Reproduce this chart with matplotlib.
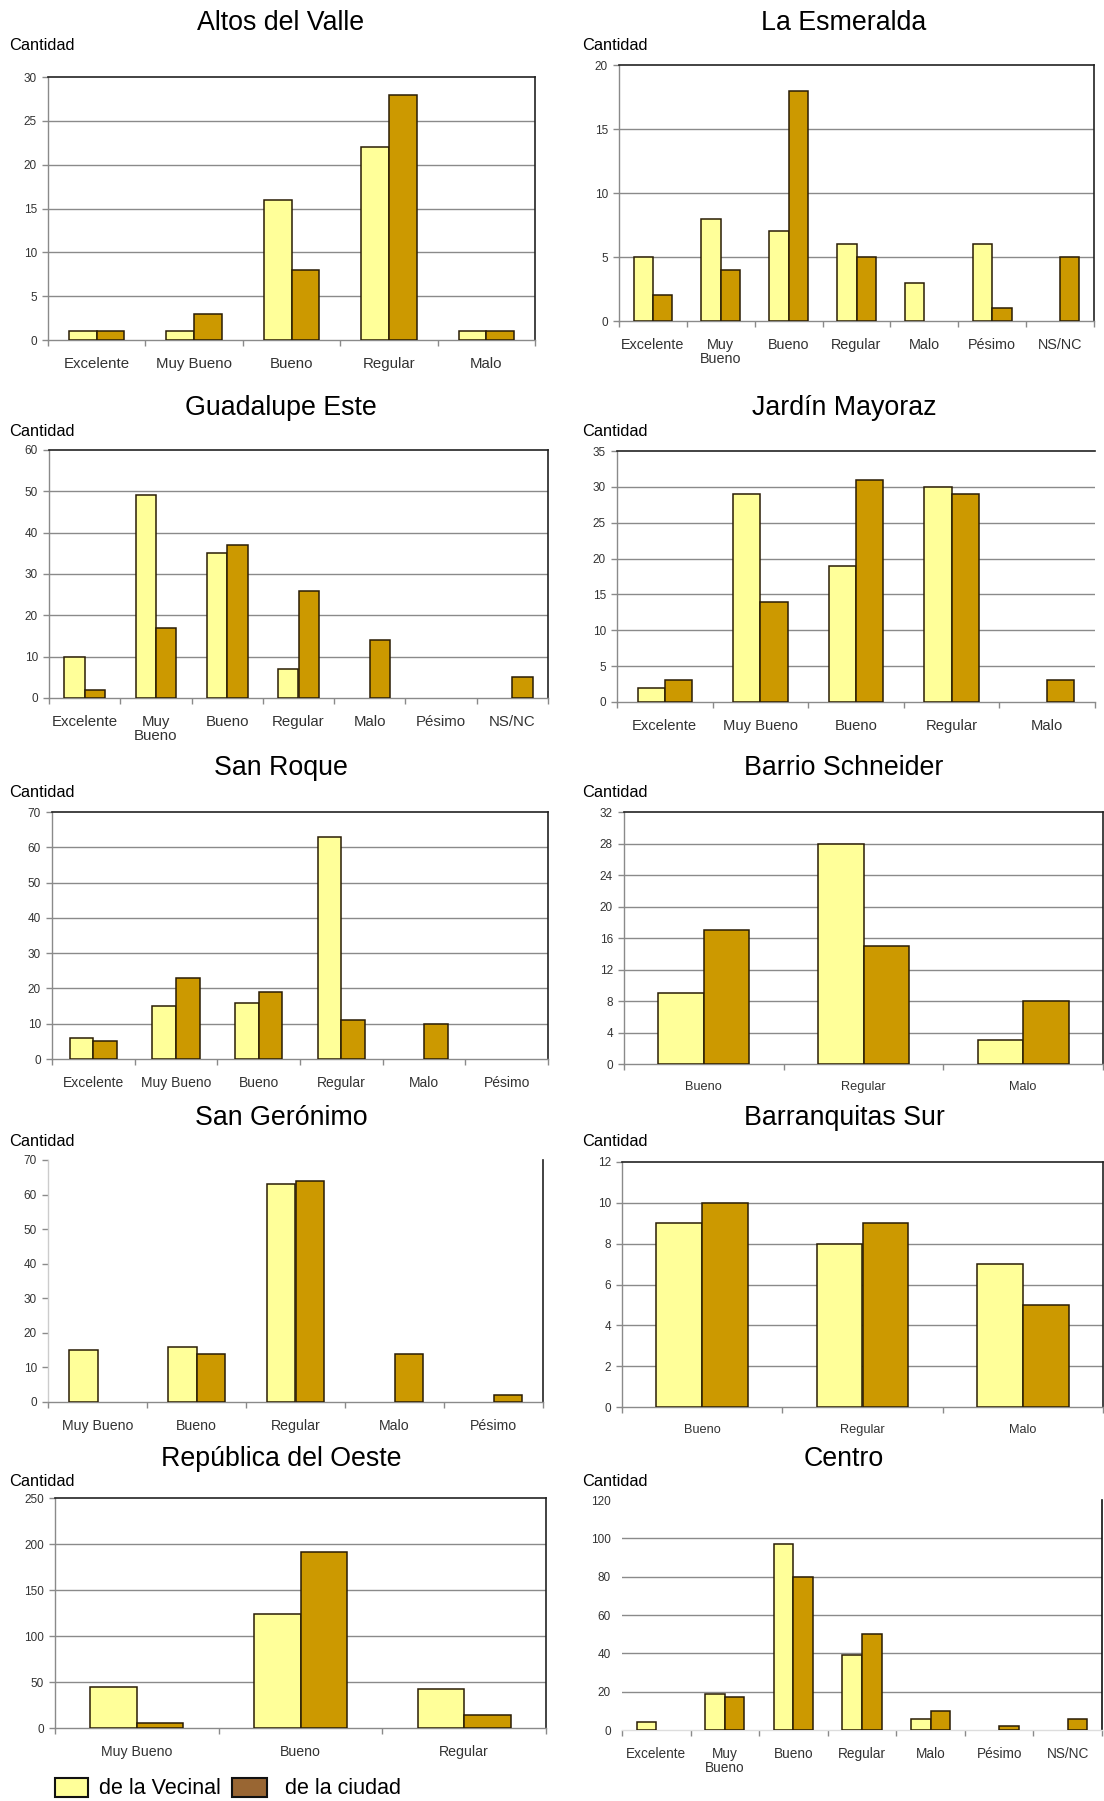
import numpy as np
import matplotlib
matplotlib.use("Agg")
import matplotlib.pyplot as plt
from matplotlib.patches import Rectangle

plt.rcParams["font.family"] = ["Liberation Sans", "DejaVu Sans"]

# ---- data: evaluations per neighbourhood (de la Vecinal / de la ciudad) ----
altos_cats = ["Excelente", "Muy Bueno", "Bueno", "Regular", "Malo"]
altos_vecinal = [1, 1, 16, 22, 1]
altos_ciudad = [1, 3, 8, 28, 1]

esmeralda_cats = ["Excelente", "Muy\nBueno", "Bueno", "Regular", "Malo", "Pésimo", "NS/NC"]
esmeralda_vecinal = [5, 8, 7, 6, 3, 6, 0]
esmeralda_ciudad = [2, 4, 18, 5, 0, 1, 5]

guadalupe_cats = ["Excelente", "Muy\nBueno", "Bueno", "Regular", "Malo", "Pésimo", "NS/NC"]
guadalupe_vecinal = [10, 49, 35, 7, 0, 0, 0]
guadalupe_ciudad = [2, 17, 37, 26, 14, 0, 5]

jardin_cats = ["Excelente", "Muy Bueno", "Bueno", "Regular", "Malo"]
jardin_vecinal = [2, 29, 19, 30, 0]
jardin_ciudad = [3, 14, 31, 29, 3]

sanroque_cats = ["Excelente", "Muy Bueno", "Bueno", "Regular", "Malo", "Pésimo"]
sanroque_vecinal = [6, 15, 16, 63, 0, 0]
sanroque_ciudad = [5, 23, 19, 11, 10, 0]

schneider_cats = ["Bueno", "Regular", "Malo"]
schneider_vecinal = [9, 28, 3]
schneider_ciudad = [17, 15, 8]

geronimo_cats = ["Muy Bueno", "Bueno", "Regular", "Malo", "Pésimo"]
geronimo_vecinal = [15, 16, 63, 0, 0]
geronimo_ciudad = [0, 14, 64, 14, 2]

barranquitas_cats = ["Bueno", "Regular", "Malo"]
barranquitas_vecinal = [9, 8, 7]
barranquitas_ciudad = [10, 9, 5]

republica_cats = ["Muy Bueno", "Bueno", "Regular"]
republica_vecinal = [45, 124, 42]
republica_ciudad = [5, 191, 14]

centro_cats = ["Excelente", "Muy\nBueno", "Bueno", "Regular", "Malo", "Pésimo", "NS/NC"]
centro_vecinal = [4, 19, 97, 39, 6, 0, 0]
centro_ciudad = [0, 17, 80, 50, 10, 2, 6]

titles = ["Altos del Valle", "La Esmeralda", "Guadalupe Este", "Jardín Mayoraz",
          "San Roque", "Barrio Schneider", "San Gerónimo", "Barranquitas Sur",
          "República del Oeste", "Centro"]
y_ticks = [np.arange(0, 31, 5), np.arange(0, 21, 5), np.arange(0, 61, 10),
           np.arange(0, 36, 5), np.arange(0, 71, 10), np.arange(0, 33, 4),
           np.arange(0, 71, 10), np.arange(0, 13, 2), np.arange(0, 251, 50),
           np.arange(0, 121, 20)]
legend_labels = ["de la Vecinal", "de la ciudad"]

panels = [
    (altos_cats, altos_vecinal, altos_ciudad),
    (esmeralda_cats, esmeralda_vecinal, esmeralda_ciudad),
    (guadalupe_cats, guadalupe_vecinal, guadalupe_ciudad),
    (jardin_cats, jardin_vecinal, jardin_ciudad),
    (sanroque_cats, sanroque_vecinal, sanroque_ciudad),
    (schneider_cats, schneider_vecinal, schneider_ciudad),
    (geronimo_cats, geronimo_vecinal, geronimo_ciudad),
    (barranquitas_cats, barranquitas_vecinal, barranquitas_ciudad),
    (republica_cats, republica_vecinal, republica_ciudad),
    (centro_cats, centro_vecinal, centro_ciudad),
]

# ---- layout (pixels): left, right, top, bottom of each plot area ----
W, H = 1104, 1801
boxes = [(48, 535, 77, 340), (619, 1094, 65, 321),
         (49, 548, 450, 698), (617, 1095, 451, 702),
         (52, 548, 812, 1059), (624, 1103, 812, 1064),
         (48, 543, 1160, 1402), (622, 1103, 1162, 1407),
         (55, 546, 1498, 1728), (622, 1102, 1500, 1730)]
title_x = [281, 844]
title_base = [30, 415, 775, 1125, 1466]
cantidad_x = [9, 582]
cantidad_base = [50, 436, 797, 1146, 1486]
cat_fs = [10.8, 10.4, 10.8, 10.6, 10.0, 9.2, 10.2, 9.2, 10.2, 9.8]

LIGHT = "#FFFF99"
DARK = "#CC9900"
EDGE = "#2a1d05"
GRID = "#8a8a8a"
BAR_W = 0.285

fig = plt.figure(figsize=(W / 100, H / 100), dpi=100)
fig.patch.set_facecolor("white")

for k, ((cats, vec, ciu), box) in enumerate(zip(panels, boxes)):
    L, R, T, B = box
    ax = fig.add_axes([L / W, 1 - B / H, (R - L) / W, (B - T) / H])
    n = len(cats)
    x = np.arange(n)
    # empty categories get no outline so no flat line shows on the baseline
    lw_v = [1.1 if v > 0 else 0 for v in vec]
    lw_c = [1.1 if v > 0 else 0 for v in ciu]
    ax.bar(x - BAR_W / 2, vec, BAR_W, color=LIGHT, edgecolor=EDGE, linewidth=lw_v, zorder=3)
    ax.bar(x + BAR_W / 2, ciu, BAR_W, color=DARK, edgecolor=EDGE, linewidth=lw_c, zorder=3)

    ticks = y_ticks[k]
    ax.set_ylim(0, ticks[-1])
    ax.set_xlim(-0.5, n - 0.5)
    ax.set_yticks(ticks)
    ax.set_yticklabels([str(t) for t in ticks], fontsize=8.5, color="#333333")
    ax.tick_params(axis="y", length=4, width=1, color=GRID, pad=4)

    ax.set_xticks(x)
    ax.set_xticklabels(cats, fontsize=cat_fs[k], color="#333333", linespacing=1.0)
    ax.set_xticks(np.arange(n + 1) - 0.5, minor=True)
    ax.tick_params(axis="x", which="major", length=0, pad=12)
    ax.tick_params(axis="x", which="minor", length=4, width=1, color=GRID)

    # horizontal guide lines
    if k != 6:
        for t in ticks[1:-1]:
            ax.axhline(t, color=GRID, linewidth=1, zorder=1)

    for side in ("left", "bottom"):
        ax.spines[side].set_color(GRID)
        ax.spines[side].set_linewidth(1)
    for side in ("top", "right"):
        ax.spines[side].set_color("#222222")
        ax.spines[side].set_linewidth(1.2)
    if k == 3:
        ax.spines["right"].set_visible(False)
    if k == 6:
        ax.spines["top"].set_visible(False)
        ax.spines["left"].set_color("#cccccc")
    if k == 9:
        ax.spines["top"].set_visible(False)
        ax.spines["left"].set_visible(False)
        ax.spines["bottom"].set_color("#dddddd")
        ax.spines["right"].set_color("#111111")
        ax.tick_params(axis="y", length=0, pad=8)

    col, row = k % 2, k // 2
    fig.text(title_x[col] / W, 1 - title_base[row] / H, titles[k],
             fontsize=19.3, ha="center", va="baseline")
    fig.text(cantidad_x[col] / W, 1 - cantidad_base[row] / H, "Cantidad",
             fontsize=11.8, ha="left", va="baseline")

# ---- legend ----
for (x0, x1, face, label, tx) in [(55, 88, LIGHT, legend_labels[0], 99),
                                  (232, 267, "#996633", legend_labels[1], 285)]:
    fig.patches.append(Rectangle((x0 / W, 1 - 1797 / H), (x1 - x0) / W, 19 / H,
                                 transform=fig.transFigure, facecolor=face,
                                 edgecolor="#111111", linewidth=1.5))
    fig.text(tx / W, 1 - 1794 / H, label, fontsize=15.5, ha="left", va="baseline")

fig.savefig("out.png", dpi=100, facecolor="white")
